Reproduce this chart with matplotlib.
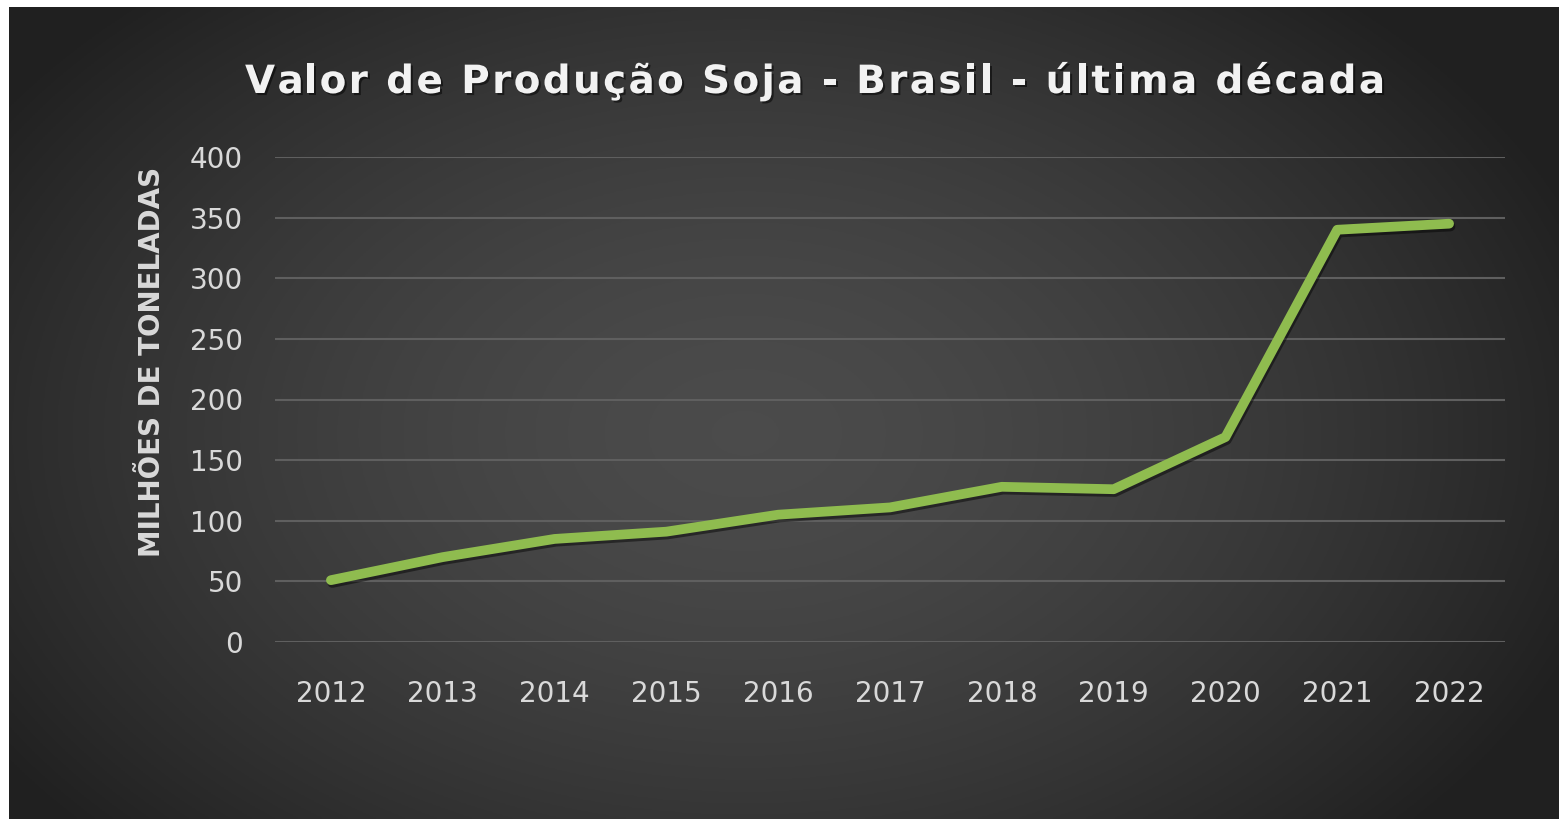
import numpy as np
import matplotlib.pyplot as plt
import matplotlib.patheffects as pe

anos = ["2012", "2013", "2014", "2015", "2016", "2017", "2018", "2019", "2020", "2021", "2022"]
valores = [51, 70, 85, 91, 105, 111, 128, 126, 169, 340, 345]
ticks_y = [0, 50, 100, 150, 200, 250, 300, 350, 400]
titulo = "Valor de Produção Soja - Brasil - última década"
rotulo_y = "MILHÕES DE TONELADAS"

W, H = 1559, 819
fig = plt.figure(figsize=(W / 100, H / 100), dpi=100)
fig.patch.set_facecolor("white")

# fundo com gradiente radial
bg = fig.add_axes([9 / W, 0, 1 - 9 / W, 1 - 7 / H])
bg.set_axis_off()
yy, xx = np.mgrid[-1:1:300j, -1:1:600j]
r = np.sqrt(((xx + 0.05) * 0.95) ** 2 + ((yy - 0.05) * 0.75) ** 2)
r = np.clip(r, 0, 1.1)
grad = 0.295 - 0.145 * r ** 1.6
bg.imshow(np.dstack([grad, grad, grad]), aspect="auto", extent=[0, 1, 0, 1])

ax = fig.add_axes([275 / W, 1 - 642 / H, (1505 - 275) / W, (642 - 157) / H])
ax.patch.set_alpha(0)

x = np.arange(len(anos))
ax.plot(x, valores, color="#8fbc4f", lw=7, solid_capstyle="round", solid_joinstyle="round",
        path_effects=[pe.SimpleLineShadow(offset=(1, -2), shadow_color="black", alpha=0.45),
                      pe.Normal()], zorder=3)

ax.set_xlim(-0.5, len(anos) - 0.5)
ax.set_ylim(0, 400)
ax.set_yticks(ticks_y)
ax.set_xticks(x)
ax.set_xticklabels(anos)
ax.grid(axis="y", color="#5f5f5f", lw=1.5)
ax.set_axisbelow(True)
for s in ax.spines.values():
    s.set_visible(False)
ax.tick_params(length=0, colors="#d9d9d9", labelsize=20)
ax.tick_params(axis="x", pad=27)
ax.tick_params(axis="y", pad=23)

fig.text(152 / W, 1 - 362 / H, rotulo_y, rotation=90, ha="center", va="center",
         color="#d9d9d9", fontsize=20, fontweight="bold")


# titulo com espacamento entre letras
def texto_espacado(s, xc, yb, largura, **kw):
    ren = fig.canvas.get_renderer()

    def larg(t):
        tt = fig.text(0, 0, t, **kw)
        w = tt.get_window_extent(ren).width
        tt.remove()
        return w

    wbar = larg("|")
    pos = [larg(s[:i] + "|") - wbar if i else 0 for i in range(len(s))]
    total = larg(s)
    esp = (largura - total) / (len(s) - 1)
    x0 = xc - largura / 2
    for i, c in enumerate(s):
        if c == " ":
            continue
        fig.text((x0 + pos[i] + i * esp) / W, yb, c, ha="left", va="baseline",
                 path_effects=[pe.withSimplePatchShadow(offset=(1.5, -1.5), shadow_rgbFace="black", alpha=0.5)],
                 **kw)


texto_espacado(titulo, 815, 1 - 93 / H, 1140, color="#f2f2f2", fontsize=28, fontweight="bold")

fig.savefig("out.png", dpi=100)
